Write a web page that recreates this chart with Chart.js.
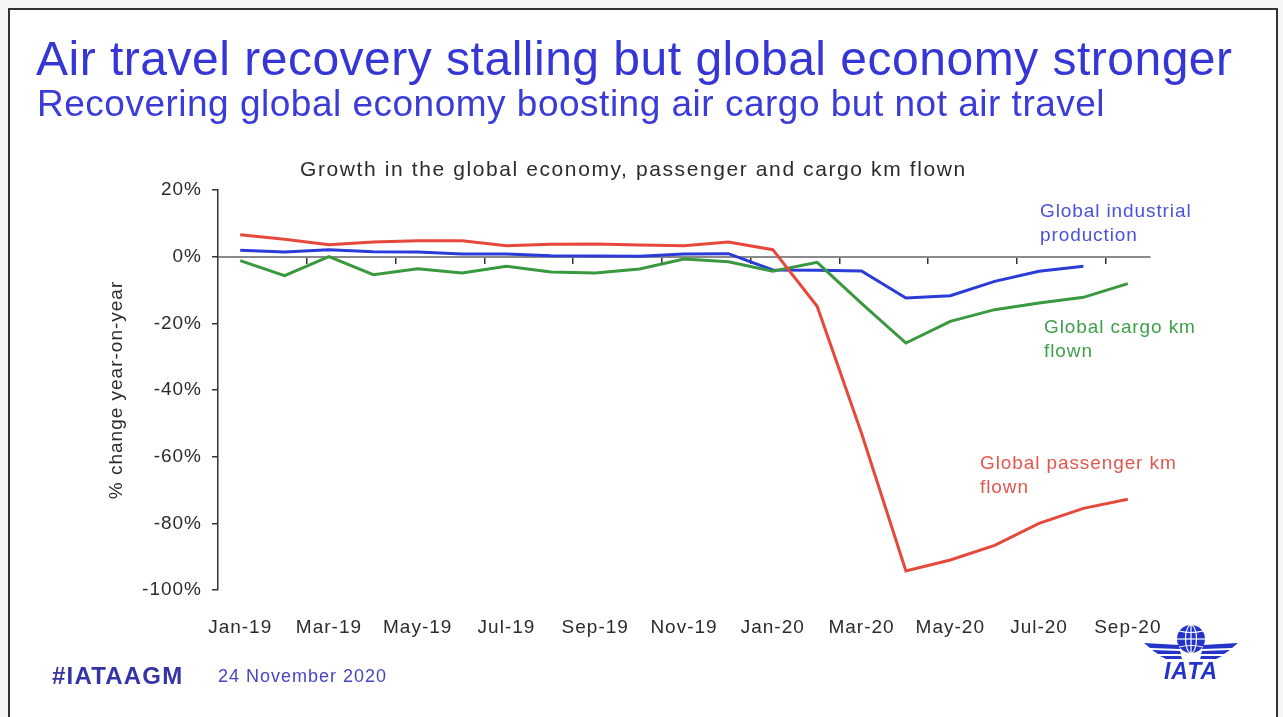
<!DOCTYPE html>
<html>
<head>
<meta charset="utf-8">
<script src="https://cdn.jsdelivr.net/npm/chart.js@4.4.1/dist/chart.umd.min.js"></script>
<style>
  body { margin: 0; background: #f6f6f6; font-family: "Liberation Sans", Arial, sans-serif; }
  #slide { position: absolute; left: 8px; top: 8px; width: 1266px; height: 720px; background: #fff; border: 2px solid #333; }
  #wrap { position: absolute; left: 0; top: 0; width: 1283px; height: 717px; }
  .txt { position: absolute; white-space: nowrap; }
  #title { left: 36px; top: 31px; font-size: 48px; color: #3636d6; letter-spacing: 0.5px; }
  #subtitle { left: 37px; top: 83px; font-size: 37px; color: #3b3bd8; letter-spacing: 0.5px; }
  #chartTitle { left: 300px; top: 157px; font-size: 21px; color: #2b2b2b; letter-spacing: 1.6px; }
  .lbl { font-size: 19px; line-height: 24px; letter-spacing: 0.9px; }
  #lblInd { left: 1040px; top: 199px; color: #4a52d8; }
  #lblCargo { left: 1044px; top: 315px; color: #3ea04b; }
  #lblPax { left: 980px; top: 451px; color: #e2574e; }
  #tag { left: 52px; top: 662px; font-size: 24px; font-weight: bold; color: #3434a6; letter-spacing: 1.2px; }
  #date { left: 218px; top: 666px; font-size: 18px; color: #4646c4; letter-spacing: 1px; }
  #logo { position: absolute; left: 1136px; top: 620px; }
</style>
</head>
<body>
<div id="slide"></div>
<div id="wrap"><canvas id="growthChart"></canvas></div>
<div class="txt" id="title">Air travel recovery stalling but global economy stronger</div>
<div class="txt" id="subtitle">Recovering global economy boosting air cargo but not air travel</div>
<div class="txt" id="chartTitle">Growth in the global economy, passenger and cargo km flown</div>
<div class="txt lbl" id="lblInd">Global industrial<br>production</div>
<div class="txt lbl" id="lblCargo">Global cargo km<br>flown</div>
<div class="txt lbl" id="lblPax">Global passenger km<br>flown</div>
<div class="txt" id="tag">#IATAAGM</div>
<div class="txt" id="date">24 November 2020</div>
<svg id="logo" width="110" height="64" viewBox="0 0 110 64">
  <g fill="#2434c8" stroke="none">
    <circle cx="55" cy="19" r="14"/>
    <path d="M8 23 L43 25 L44 29 L14 28 Z"/>
    <path d="M16 30 L44 31 L45 34 L22 34 Z"/>
    <path d="M24 36 L45 36 L46 39 L30 39 Z"/>
    <path d="M102 23 L67 25 L66 29 L96 28 Z"/>
    <path d="M94 30 L66 31 L65 34 L88 34 Z"/>
    <path d="M86 36 L65 36 L64 39 L80 39 Z"/>
    <text x="55" y="59" text-anchor="middle" font-family="Liberation Sans, Arial" font-size="23" font-weight="bold" font-style="italic" letter-spacing="1">IATA</text>
  </g>
  <g fill="none" stroke="#fff" stroke-width="1.2">
    <ellipse cx="55" cy="19" rx="5.5" ry="14"/>
    <line x1="55" y1="5" x2="55" y2="33"/>
    <line x1="41" y1="19" x2="69" y2="19"/>
    <path d="M43 11 Q55 14 67 11"/>
    <path d="M43 27 Q55 24 67 27"/>
  </g>
</svg>
<script>
const months = ['Jan-19', 'Feb-19', 'Mar-19', 'Apr-19', 'May-19', 'Jun-19', 'Jul-19', 'Aug-19', 'Sep-19', 'Oct-19', 'Nov-19', 'Dec-19',
                'Jan-20', 'Feb-20', 'Mar-20', 'Apr-20', 'May-20', 'Jun-20', 'Jul-20', 'Aug-20', 'Sep-20'];
// % change year-on-year
const passengerKm = [6.6, 5.2, 3.6, 4.4, 4.8, 4.8, 3.3, 3.7, 3.8, 3.5, 3.3, 4.4, 2.1, -14.9, -53.0, -94.3, -91.0, -86.6, -80.0, -75.5, -72.8];
const cargoKm = [-1.2, -5.7, 0.0, -5.4, -3.6, -4.9, -2.9, -4.6, -4.9, -3.7, -0.7, -1.5, -4.4, -1.7, -14.0, -25.9, -19.4, -15.9, -13.9, -12.2, -8.1];
const industrialProd = [1.9, 1.4, 2.1, 1.5, 1.4, 0.8, 0.8, 0.3, 0.2, 0.1, 0.8, 0.9, -4.0, -4.1, -4.3, -12.4, -11.7, -7.4, -4.4, -2.9, null];
const yTicks = [20, 0, -20, -40, -60, -80, -100];

const axisFont = { family: '"Liberation Sans", Arial, sans-serif', size: 19 };

// Chart.js has no letter-spacing option, so set it on the context before layout and drawing
const spacing = {
  id: 'spacing',
  beforeLayout(chart) { chart.ctx.letterSpacing = '1px'; },
  beforeDraw(chart) { chart.ctx.letterSpacing = '1px'; }
};

const ctx = document.getElementById('growthChart').getContext('2d');
new Chart(ctx, {
  type: 'line',
  data: {
    labels: months,
    datasets: [
      { label: 'Global passenger km flown', data: passengerKm, borderColor: '#e7483c', borderWidth: 3 },
      { label: 'Global cargo km flown', data: cargoKm, borderColor: '#39993f', borderWidth: 3 },
      { label: 'Global industrial production', data: industrialProd, borderColor: '#2a3bd8', borderWidth: 3 }
    ]
  },
  options: {
    responsive: true,
    maintainAspectRatio: false,
    animation: false,
    layout: { padding: { left: 100, top: 190, right: 133, bottom: 0 } },
    elements: { point: { radius: 0 }, line: { tension: 0 } },
    plugins: {
      legend: { display: false },
      tooltip: { enabled: false }
    },
    scales: {
      x: {
        type: 'category',
        offset: true,
        grid: { display: false },
        border: { display: false },
        ticks: {
          autoSkip: false,
          maxRotation: 0,
          padding: 18,
          color: '#2b2b2b',
          font: axisFont,
          callback: (v, i) => i % 2 === 0 ? months[i] : ''
        },
        afterFit: s => { s.height = 127; }
      },
      zero: {
        type: 'category',
        axis: 'x',
        labels: months,
        offset: true,
        position: { y: 0 },
        ticks: { display: false },
        border: { display: true, color: '#8a8a8a', width: 2 },
        grid: {
          offset: true,
          drawOnChartArea: false,
          tickLength: 6,
          lineWidth: 1.5,
          color: c => (c.index > 0 && c.index % 2 === 0) ? '#333' : 'rgba(0,0,0,0)'
        }
      },
      y: {
        min: -100,
        max: 20,
        afterBuildTicks: s => { s.ticks = yTicks.map(v => ({ value: v })); },
        ticks: {
          padding: 10,
          color: '#2b2b2b',
          font: axisFont,
          callback: v => v + '%'
        },
        grid: { drawOnChartArea: false, tickLength: 6, color: '#333', lineWidth: 1.5 },
        border: { color: '#333', width: 1.5 },
        title: {
          display: true,
          text: '% change year-on-year',
          color: '#2b2b2b',
          font: { family: '"Liberation Sans", Arial, sans-serif', size: 19 },
          padding: { top: 5, bottom: 0 }
        },
        afterFit: s => { s.width = 118; }
      }
    }
  },
  plugins: [spacing]
});
</script>
</body>
</html>
